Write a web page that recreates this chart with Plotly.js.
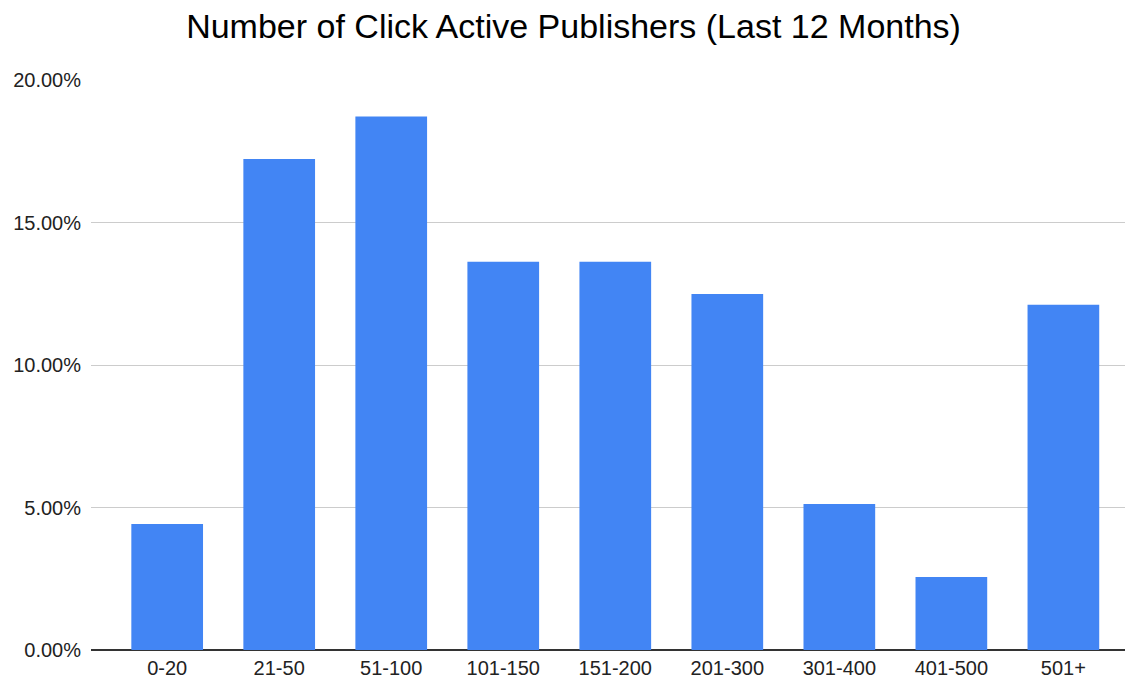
<!DOCTYPE html>
<html>
<head>
<meta charset="utf-8">
<script src="https://cdn.plot.ly/plotly-3.0.1.min.js"></script>
<style>
  html, body { margin: 0; padding: 0; background: #fff; }
  #chart { width: 1129px; height: 681px; }
</style>
</head>
<body>
<div id="chart"></div>
<script>
// publisher count buckets and share of publishers (%)
const buckets = ['0-20', '21-50', '51-100', '101-150', '151-200', '201-300', '301-400', '401-500', '501+'];
const share = [4.42, 17.23, 18.72, 13.62, 13.62, 12.49, 5.12, 2.56, 12.11];
const yTicks = [0, 5, 10, 15, 20];
const yTickText = ['0.00%', '5.00%', '10.00%', '15.00%', '20.00%'];

const trace = {
    x: buckets,
    y: share,
    type: 'bar',
    marker: { color: '#4285f4' },
    hoverinfo: 'x+y'
};

const layout = {
    width: 1129,
    height: 681,
    margin: { l: 91, r: 4, t: 80, b: 31 },
    paper_bgcolor: '#fff',
    plot_bgcolor: '#fff',
    font: { family: 'Liberation Sans, Arial, sans-serif', color: '#222', size: 20 },
    title: {
        text: 'Number of Click Active Publishers (Last 12 Months)',
        font: { size: 34, color: '#000' },
        x: 0.508,
        xanchor: 'center',
        xref: 'container',
        y: 0.962,
        yanchor: 'middle'
    },
    bargap: 0.36,
    showlegend: false,
    xaxis: {
        type: 'category',
        range: [-0.68, 8.55],
        showgrid: false,
        zeroline: false,
        showline: false,
        ticks: '',
        ticklabelstandoff: 4,
        automargin: false,
        tickfont: { size: 20 }
    },
    yaxis: {
        range: [0, 20],
        tickvals: yTicks,
        ticktext: yTickText,
        gridcolor: '#cccccc',
        gridwidth: 1,
        zeroline: true,
        zerolinecolor: '#333333',
        zerolinewidth: 1.5,
        showline: false,
        ticks: '',
        ticklabelstandoff: 9,
        automargin: false,
        tickfont: { size: 20 }
    }
};

Plotly.newPlot('chart', [trace], layout, { displayModeBar: false, staticPlot: true });
</script>
</body>
</html>
